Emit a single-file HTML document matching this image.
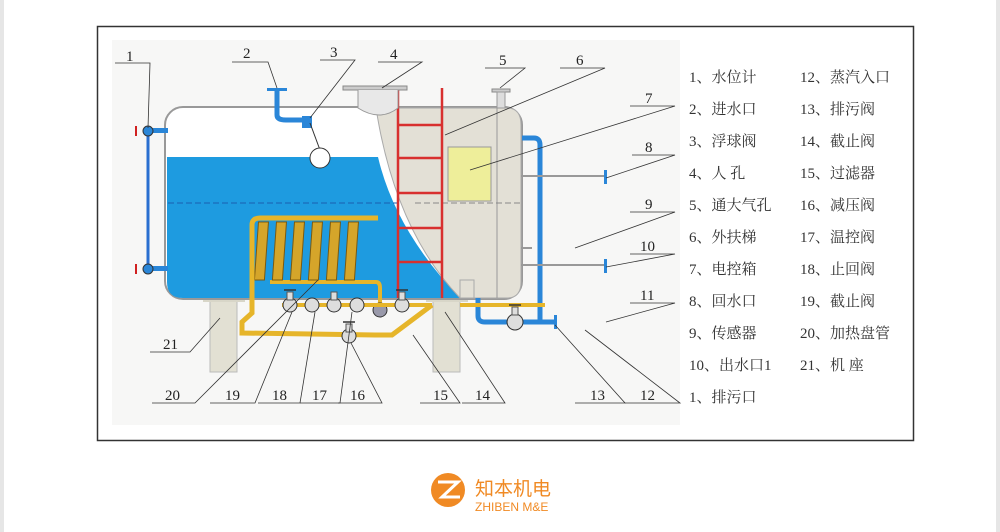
<!DOCTYPE html>
<html><head><meta charset="utf-8"><style>
html,body{margin:0;padding:0;background:#fff;}
body{width:1000px;height:532px;position:relative;overflow:hidden;font-family:"Liberation Serif","Noto Serif CJK SC",serif;}
.gl{position:absolute;top:0;bottom:0;width:4px;background:#e6e6e6;}
</style></head><body>
<div class="gl" style="left:0"></div><div class="gl" style="right:0"></div>
<svg width="1000" height="532" style="position:absolute;left:0;top:0" xmlns="http://www.w3.org/2000/svg">
<rect x="97.5" y="26.5" width="816" height="414" fill="#fff" stroke="#333" stroke-width="1.5"/>
<rect x="112" y="40" width="568" height="385" fill="#f7f7f6"/>
<!-- supports -->
<rect x="210" y="300" width="27" height="72" fill="#e2e0d3" stroke="#bbb"/>
<rect x="203" y="298" width="42" height="4" fill="#d8d6c8"/>
<rect x="433" y="300" width="27" height="72" fill="#e2e0d3" stroke="#bbb"/>
<rect x="426" y="298" width="42" height="4" fill="#d8d6c8"/>
<!-- tank body -->
<rect x="165" y="107" width="357" height="192" rx="18" fill="#fff" stroke="#999" stroke-width="2"/>
<path d="M167 157 L378 157 Q395 230 460 298 L183 298 Q167 298 167 282 Z" fill="#1e9be0"/>
<line x1="168" y1="203" x2="420" y2="203" stroke="#1a5fb0" stroke-dasharray="6 3"/>
<path d="M376 108 L507 108 Q521 108 521 125 L521 282 Q521 298 507 298 L460 298 Q395 230 376 108 Z" fill="#e3e0d6" stroke="#aaa"/>
<line x1="497" y1="108" x2="497" y2="298" stroke="#999"/>
<line x1="415" y1="203" x2="522" y2="203" stroke="#888" stroke-dasharray="6 3"/>
<rect x="448" y="147" width="43" height="54" fill="#eeee9a" stroke="#999"/>
<rect x="460" y="280" width="14" height="18" fill="#e3e0d6" stroke="#aaa"/>
<!-- ladder -->
<g stroke="#d8302f" stroke-width="2.5"><line x1="398" y1="88" x2="398" y2="298"/><line x1="442" y1="88" x2="442" y2="298"/>
<line x1="398" y1="125" x2="442" y2="125"/><line x1="398" y1="158" x2="442" y2="158"/><line x1="398" y1="193" x2="442" y2="193"/><line x1="398" y1="228" x2="442" y2="228"/><line x1="398" y1="262" x2="442" y2="262"/></g>
<!-- manhole -->
<rect x="343" y="86" width="64" height="4" fill="#ccc" stroke="#888"/>
<path d="M358 90 L358 108 Q380 122 398 108 L398 90" fill="#e8e8e8" stroke="#999"/>
<!-- vent -->
<rect x="492" y="89" width="18" height="3" fill="#ccc" stroke="#888"/><rect x="497" y="92" width="8" height="16" fill="#ddd" stroke="#999"/>
<!-- inlet pipe -->
<path d="M277 90 L277 115 Q277 120 286 120 L305 120" fill="none" stroke="#2a86d8" stroke-width="5"/>
<rect x="267" y="88" width="20" height="3" fill="#2a86d8"/>
<rect x="302" y="116" width="10" height="12" fill="#2a86d8"/>
<line x1="310" y1="123" x2="320" y2="150" stroke="#333"/>
<circle cx="320" cy="158" r="10" fill="#fff" stroke="#333"/>
<!-- level gauge -->
<line x1="148" y1="130" x2="148" y2="268" stroke="#2a6fd0" stroke-width="3"/>
<rect x="148" y="128" width="20" height="5" fill="#2a86d8"/><rect x="148" y="266" width="20" height="5" fill="#2a86d8"/>
<circle cx="148" cy="131" r="5" fill="#2a86d8" stroke="#333"/><circle cx="148" cy="269" r="5" fill="#2a86d8" stroke="#333"/>
<line x1="136" y1="126" x2="136" y2="136" stroke="#d02020" stroke-width="2"/><line x1="136" y1="264" x2="136" y2="274" stroke="#d02020" stroke-width="2"/>
<!-- right blue pipe -->
<path d="M522 138 L534 138 Q540 138 540 145 L540 322 L556 322" fill="none" stroke="#2a86d8" stroke-width="5"/>
<path d="M478 298 L478 316 Q478 322 485 322 L540 322" fill="none" stroke="#2a86d8" stroke-width="5"/>
<g stroke="#999" stroke-width="2"><line x1="521" y1="176" x2="606" y2="176"/><line x1="521" y1="265" x2="606" y2="265"/><line x1="521" y1="248" x2="532" y2="248"/></g>
<rect x="604" y="170" width="3" height="14" fill="#2a86d8"/><rect x="604" y="259" width="3" height="14" fill="#2a86d8"/><rect x="554" y="315" width="3" height="14" fill="#2a86d8"/>
<!-- heating coil -->
<path d="M252 272 L252 225 Q252 218 260 218 L378 218" fill="none" stroke="#e6b52a" stroke-width="5"/>
<path d="M270 282 L376 282 Q380 282 380 288 L380 305" fill="none" stroke="#e6b52a" stroke-width="4"/>
<g fill="#d5a52a" stroke="#7a5a10" stroke-width="1">
<rect x="274" y="222" width="10" height="58" transform="skewX(-4)"/><rect x="292" y="222" width="10" height="58" transform="skewX(-4)"/><rect x="310" y="222" width="10" height="58" transform="skewX(-4)"/><rect x="328" y="222" width="10" height="58" transform="skewX(-4)"/><rect x="346" y="222" width="10" height="58" transform="skewX(-4)"/><rect x="364" y="222" width="10" height="58" transform="skewX(-4)"/></g>
<circle cx="380" cy="310" r="7" fill="#99a" stroke="#333"/>
<!-- bottom pipes -->
<path d="M252 272 L252 313 L242 322 L242 333 L375 335 L392 335 L432 305" fill="none" stroke="#e6b52a" stroke-width="5"/>
<line x1="282" y1="305" x2="432" y2="305" stroke="#e6b52a" stroke-width="4"/>
<line x1="460" y1="305" x2="545" y2="305" stroke="#e6b52a" stroke-width="4"/>
<g fill="#ddd" stroke="#333">
<circle cx="290" cy="305" r="7"/><circle cx="312" cy="305" r="7"/><circle cx="334" cy="305" r="7"/><circle cx="357" cy="305" r="7"/><circle cx="402" cy="305" r="7"/><circle cx="349" cy="336" r="7"/><circle cx="515" cy="322" r="8"/>
</g>
<g stroke="#333" stroke-width="1.5"><line x1="284" y1="290" x2="296" y2="290"/><line x1="396" y1="290" x2="408" y2="290"/><line x1="343" y1="322" x2="355" y2="322"/><line x1="509" y1="305" x2="521" y2="305"/></g>
<rect x="287" y="292" width="6" height="8" fill="#ddd" stroke="#555"/><rect x="399" y="292" width="6" height="8" fill="#ddd" stroke="#555"/><rect x="331" y="292" width="6" height="8" fill="#ddd" stroke="#555"/><rect x="346" y="324" width="6" height="8" fill="#ddd" stroke="#555"/><rect x="512" y="307" width="6" height="8" fill="#ddd" stroke="#555"/>
<!-- leader lines -->
<g stroke="#333" stroke-width="0.8" fill="none">
<path d="M115 63 L150 63 L148 128"/><path d="M232 62 L268 62 L277 88"/><path d="M320 60 L355 60 L310 118"/><path d="M378 62 L422 62 L382 88"/>
<path d="M485 68 L525 68 L500 88"/><path d="M560 68 L605 68 L445 135"/><path d="M630 106 L675 106 L470 170"/><path d="M632 155 L675 155 L606 178"/>
<path d="M630 212 L675 212 L575 248"/><path d="M630 254 L675 254 L606 267"/><path d="M630 303 L675 303 L606 322"/>
<path d="M625 403 L680 403 L585 330"/><path d="M575 403 L625 403 L555 325"/><path d="M462 403 L505 403 L445 312"/><path d="M420 403 L460 403 L413 335"/>
<path d="M338 403 L382 403 L351 343"/><path d="M300 403 L340 403 L352 312"/><path d="M258 403 L300 403 L315 312"/><path d="M210 403 L255 403 L292 312"/>
<path d="M152 403 L195 403 L318 280"/><path d="M150 352 L190 352 L220 318"/></g>
<g font-family="Liberation Serif,serif" font-size="15" fill="#222">
<text x="126" y="61">1</text><text x="243" y="58">2</text><text x="330" y="57">3</text><text x="390" y="59">4</text><text x="499" y="65">5</text><text x="576" y="65">6</text><text x="645" y="103">7</text><text x="645" y="152">8</text><text x="645" y="209">9</text><text x="640" y="251">10</text><text x="640" y="300">11</text>
<text x="640" y="400">12</text><text x="590" y="400">13</text><text x="475" y="400">14</text><text x="433" y="400">15</text><text x="350" y="400">16</text><text x="312" y="400">17</text><text x="272" y="400">18</text><text x="225" y="400">19</text><text x="165" y="400">20</text><text x="163" y="349">21</text>
</g>
<g font-family="Liberation Serif,'Noto Serif CJK SC',serif" font-size="15" fill="#333">
<text x="689" y="82">1、水位计</text><text x="689" y="114">2、进水口</text><text x="689" y="146">3、浮球阀</text><text x="689" y="178">4、人  孔</text><text x="689" y="210">5、通大气孔</text><text x="689" y="242">6、外扶梯</text><text x="689" y="274">7、电控箱</text><text x="689" y="306">8、回水口</text><text x="689" y="338">9、传感器</text><text x="689" y="370">10、出水口1</text><text x="689" y="402">1、排污口</text>
<text x="800" y="82">12、蒸汽入口</text><text x="800" y="114">13、排污阀</text><text x="800" y="146">14、截止阀</text><text x="800" y="178">15、过滤器</text><text x="800" y="210">16、减压阀</text><text x="800" y="242">17、温控阀</text><text x="800" y="274">18、止回阀</text><text x="800" y="306">19、截止阀</text><text x="800" y="338">20、加热盘管</text><text x="800" y="370">21、机  座</text>
</g>
<!-- logo -->
<circle cx="448" cy="490" r="17" fill="#f08a24"/>
<path d="M438 482 L458 482 L442 497 L460 497" fill="none" stroke="#fff" stroke-width="3"/>
<text x="475" y="495" font-family="'Noto Sans CJK SC',sans-serif" font-size="19" fill="#f08a24">知本机电</text>
<text x="475" y="511" font-family="'Liberation Sans',sans-serif" font-size="12" fill="#f08a24">ZHIBEN M&amp;E</text>
</svg>
</body></html>
